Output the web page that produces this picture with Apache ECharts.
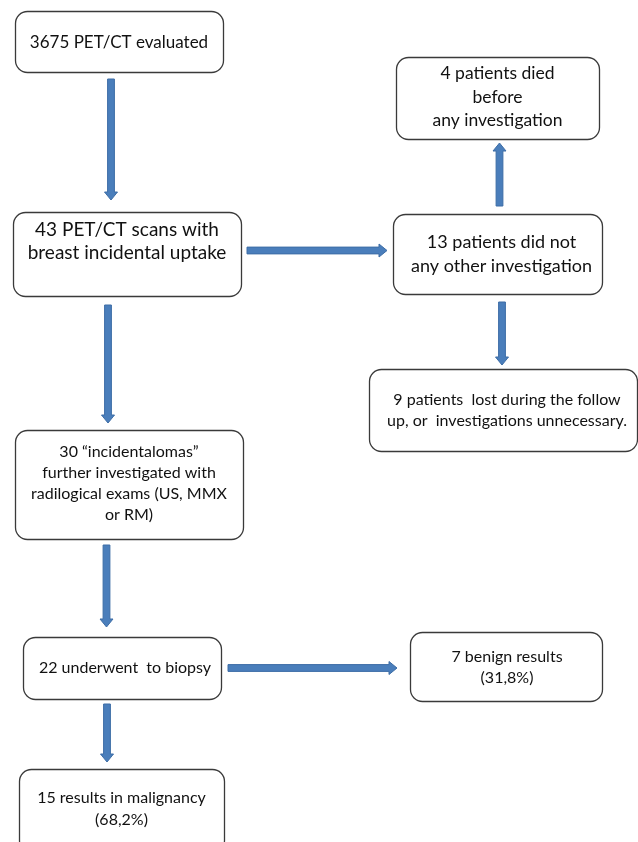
<!DOCTYPE html>
<html>
<head>
<meta charset="utf-8">
<script src="https://cdn.jsdelivr.net/npm/echarts@6/dist/echarts.min.js"></script>
<style>
html,body{margin:0;padding:0;background:#fff;}
#main{width:638px;height:842px;}
</style>
</head>
<body>
<div id="main"></div>
<script>
// ---- data: flowchart node texts and links ----
var nodeLabels = [
  '3675 PET/CT evaluated',
  '4 patients died\nbefore\nany investigation',
  '43 PET/CT scans with\nbreast incidental uptake',
  '13 patients did not\nany other investigation',
  '9 patients  lost during the follow\nup, or  investigations unnecessary.',
  '30 \u201cincidentalomas\u201d\nfurther investigated with\nradilogical exams (US, MMX\nor RM)',
  '22 underwent  to biopsy',
  '7 benign results\n(31,8%)',
  '15 results in malignancy\n(68,2%)'
];
var links = [[0,2],[2,3],[3,1],[3,4],[2,5],[5,6],[6,7],[6,8]];

// ---- layout (positions / sizes / styles) ----
// box: [x0, y0, x1, y1], text centre offsets, font size, line height
var boxLayout = [
  {b:[15,11,223,72],   tx:0, ty:43,    fs:17,   lh:23},
  {b:[396,57,599,139], tx:0, ty:97,    fs:17.5, lh:23.5},
  {b:[13,212,241,296], tx:0, ty:241.5, fs:19,   lh:23},
  {b:[393,214,602,294],tx:4, ty:254,   fs:18,   lh:24},
  {b:[369,369,637,451],tx:4, ty:410.5, fs:16,   lh:21},
  {b:[15,430,243,539], tx:0, ty:483.5, fs:16,   lh:21},
  {b:[23,637,221,699], tx:3, ty:668,   fs:16,   lh:21},
  {b:[410,632,602,701],tx:1, ty:667.5, fs:16,   lh:21},
  {b:[19,769,224,852], tx:0, ty:809,   fs:16,   lh:22}
];
// arrow geometry per link: [xStart, yStart, xEnd, yEnd]
var arrowLayout = [
  [111,79,111,200],
  [247,250.5,387,250.5],
  [499.5,206,499.5,143],
  [502,302,502,365],
  [108,305,108,423],
  [106.5,545,106.5,627],
  [228,668,397,668],
  [107,704,107,762]
];

var chart = echarts.init(document.getElementById('main'), null, {renderer:'canvas'});

var option = {
  backgroundColor:'#ffffff',
  animation:false,
  grid:{left:0,right:0,top:0,bottom:0},
  xAxis:{type:'value',min:0,max:638,show:false},
  yAxis:{type:'value',min:0,max:842,inverse:true,show:false},
  series:[
    {
      type:'custom',
      name:'arrows',
      coordinateSystem:'cartesian2d',
      data: links.map(function(l, i){ return arrowLayout[i]; }),
      renderItem:function(params, api){
        var p0 = api.coord([api.value(0), api.value(1)]);
        var p1 = api.coord([api.value(2), api.value(3)]);
        var dx = p1[0]-p0[0], dy = p1[1]-p0[1];
        var len = Math.sqrt(dx*dx+dy*dy);
        var ux = dx/len, uy = dy/len;
        var nx = -uy, ny = ux;
        var sw = 3.4, hw = 6.5, hl = 8;
        var bx = p1[0]-ux*hl, by = p1[1]-uy*hl;
        var pts = [
          [p0[0]+nx*sw, p0[1]+ny*sw],
          [bx+nx*sw, by+ny*sw],
          [bx+nx*hw, by+ny*hw],
          [p1[0], p1[1]],
          [bx-nx*hw, by-ny*hw],
          [bx-nx*sw, by-ny*sw],
          [p0[0]-nx*sw, p0[1]-ny*sw]
        ];
        return {type:'polygon', shape:{points:pts},
          style:{fill:'#4a7ebb', stroke:'#3d6da6', lineWidth:1}};
      },
      z:1
    },
    {
      type:'custom',
      name:'boxes',
      coordinateSystem:'cartesian2d',
      data: nodeLabels.map(function(t, i){ return boxLayout[i].b; }),
      renderItem:function(params, api){
        var i = params.dataIndex;
        var L = boxLayout[i];
        var p0 = api.coord([api.value(0), api.value(1)]);
        var p1 = api.coord([api.value(2), api.value(3)]);
        var tc = api.coord([(L.b[0]+L.b[2])/2 + L.tx, L.ty]);
        return {type:'group', children:[
          {type:'rect', shape:{x:p0[0]+0.5, y:p0[1]+0.5, width:p1[0]-p0[0], height:p1[1]-p0[1], r:12},
            style:{fill:'#ffffff', stroke:'#3a3a3a', lineWidth:1.3}},
          {type:'text', x:tc[0], y:tc[1],
            style:{text:nodeLabels[i], fill:'#111111', fontFamily:'Lato', fontSize:L.fs,
              lineHeight:L.lh, align:'center', verticalAlign:'middle'}}
        ]};
      },
      z:2
    }
  ]
};
chart.setOption(option);
</script>
</body>
</html>
